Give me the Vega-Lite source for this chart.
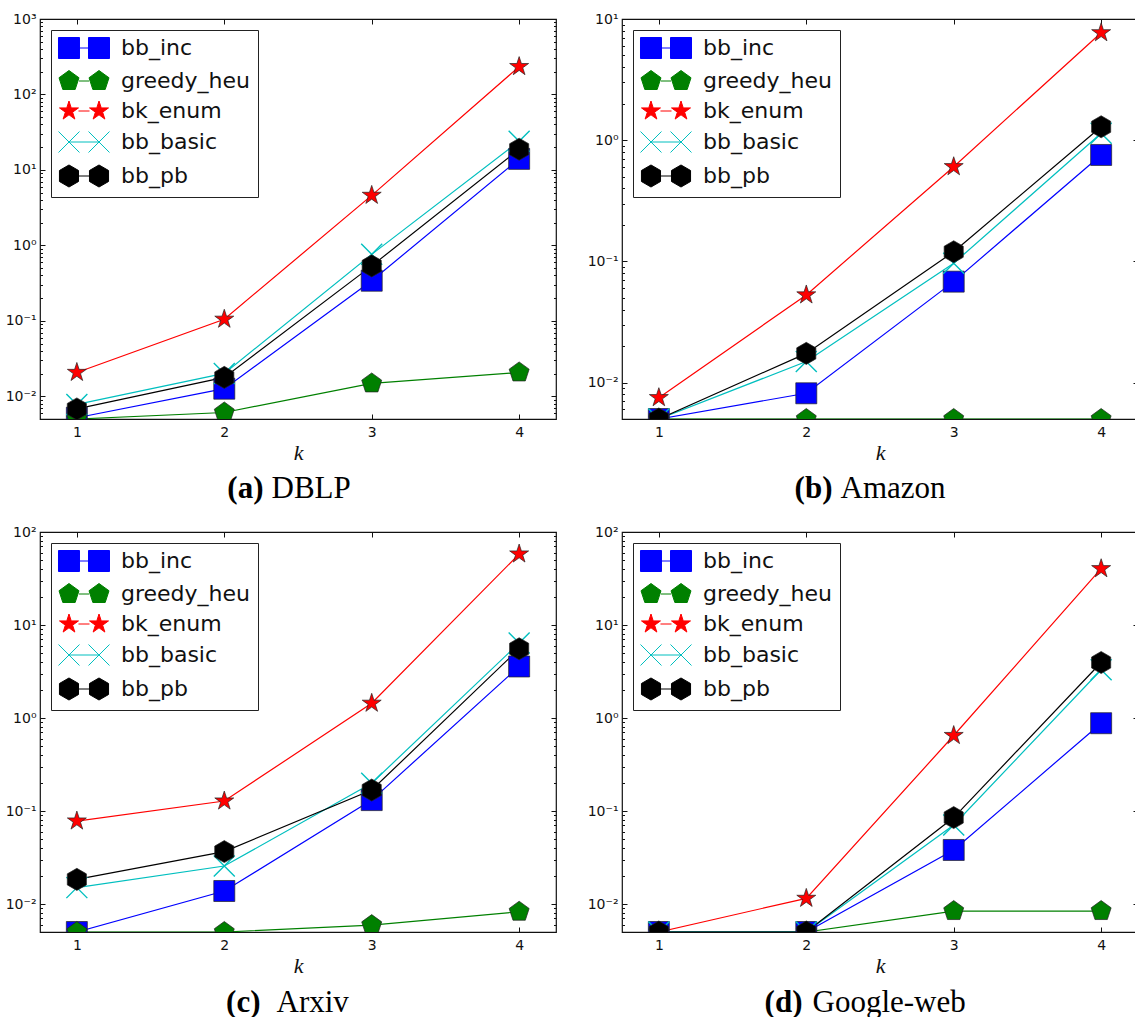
{
  "$schema": "https://vega.github.io/schema/vega-lite/v6.json",
  "padding": {"left": 4, "top": 11, "right": 0, "bottom": 0},
  "config": {
    "view": {"stroke": "#111111", "strokeWidth": 1.2},
    "axis": {"domain": false, "grid": false, "labelFont": "DejaVu Sans", "labelFontSize": 14, "labelColor": "#111111", "tickColor": "#111111", "tickWidth": 1, "labelFlush": false, "labelOverlap": false, "titleColor": "#111111"},
    "legend": {"orient": "top-left", "offset": 11, "padding": 7, "strokeColor": "#222222", "fillColor": "white", "cornerRadius": 0, "labelFont": "DejaVu Sans", "labelFontSize": 22, "labelColor": "#111111", "symbolSize": 441, "symbolOffset": 15, "labelOffset": 26, "rowPadding": 7, "symbolOpacity": 1, "symbolStrokeWidth": 1}
  },
  "data": {"values": [
    {"d": "DBLP", "s": "bb_inc", "k": 1, "t": 0.0052}, {"d": "DBLP", "s": "bb_inc", "k": 2, "t": 0.0126}, {"d": "DBLP", "s": "bb_inc", "k": 3, "t": 0.34}, {"d": "DBLP", "s": "bb_inc", "k": 4, "t": 14},
    {"d": "DBLP", "s": "greedy_heu", "k": 1, "t": 0.005}, {"d": "DBLP", "s": "greedy_heu", "k": 2, "t": 0.0061}, {"d": "DBLP", "s": "greedy_heu", "k": 3, "t": 0.0148}, {"d": "DBLP", "s": "greedy_heu", "k": 4, "t": 0.0207},
    {"d": "DBLP", "s": "bk_enum", "k": 1, "t": 0.0207}, {"d": "DBLP", "s": "bk_enum", "k": 2, "t": 0.105}, {"d": "DBLP", "s": "bk_enum", "k": 3, "t": 4.6}, {"d": "DBLP", "s": "bk_enum", "k": 4, "t": 234},
    {"d": "DBLP", "s": "bb_basic", "k": 1, "t": 0.0078}, {"d": "DBLP", "s": "bb_basic", "k": 2, "t": 0.0201}, {"d": "DBLP", "s": "bb_basic", "k": 3, "t": 0.76}, {"d": "DBLP", "s": "bb_basic", "k": 4, "t": 24},
    {"d": "DBLP", "s": "bb_pb", "k": 1, "t": 0.0068}, {"d": "DBLP", "s": "bb_pb", "k": 2, "t": 0.0178}, {"d": "DBLP", "s": "bb_pb", "k": 3, "t": 0.535}, {"d": "DBLP", "s": "bb_pb", "k": 4, "t": 18.8},
    {"d": "Amazon", "s": "bb_inc", "k": 1, "t": 0.005}, {"d": "Amazon", "s": "bb_inc", "k": 2, "t": 0.00815}, {"d": "Amazon", "s": "bb_inc", "k": 3, "t": 0.068}, {"d": "Amazon", "s": "bb_inc", "k": 4, "t": 0.755},
    {"d": "Amazon", "s": "greedy_heu", "k": 1, "t": 0.005}, {"d": "Amazon", "s": "greedy_heu", "k": 2, "t": 0.005}, {"d": "Amazon", "s": "greedy_heu", "k": 3, "t": 0.005}, {"d": "Amazon", "s": "greedy_heu", "k": 4, "t": 0.005},
    {"d": "Amazon", "s": "bk_enum", "k": 1, "t": 0.0075}, {"d": "Amazon", "s": "bk_enum", "k": 2, "t": 0.0528}, {"d": "Amazon", "s": "bk_enum", "k": 3, "t": 0.604}, {"d": "Amazon", "s": "bk_enum", "k": 4, "t": 7.7},
    {"d": "Amazon", "s": "bb_basic", "k": 1, "t": 0.005}, {"d": "Amazon", "s": "bb_basic", "k": 2, "t": 0.0149}, {"d": "Amazon", "s": "bb_basic", "k": 3, "t": 0.0964}, {"d": "Amazon", "s": "bb_basic", "k": 4, "t": 1.14},
    {"d": "Amazon", "s": "bb_pb", "k": 1, "t": 0.005}, {"d": "Amazon", "s": "bb_pb", "k": 2, "t": 0.0174}, {"d": "Amazon", "s": "bb_pb", "k": 3, "t": 0.12}, {"d": "Amazon", "s": "bb_pb", "k": 4, "t": 1.29},
    {"d": "Arxiv", "s": "bb_inc", "k": 1, "t": 0.005}, {"d": "Arxiv", "s": "bb_inc", "k": 2, "t": 0.0138}, {"d": "Arxiv", "s": "bb_inc", "k": 3, "t": 0.131}, {"d": "Arxiv", "s": "bb_inc", "k": 4, "t": 3.58},
    {"d": "Arxiv", "s": "greedy_heu", "k": 1, "t": 0.005}, {"d": "Arxiv", "s": "greedy_heu", "k": 2, "t": 0.005}, {"d": "Arxiv", "s": "greedy_heu", "k": 3, "t": 0.00593}, {"d": "Arxiv", "s": "greedy_heu", "k": 4, "t": 0.00826},
    {"d": "Arxiv", "s": "bk_enum", "k": 1, "t": 0.078}, {"d": "Arxiv", "s": "bk_enum", "k": 2, "t": 0.128}, {"d": "Arxiv", "s": "bk_enum", "k": 3, "t": 1.44}, {"d": "Arxiv", "s": "bk_enum", "k": 4, "t": 58},
    {"d": "Arxiv", "s": "bb_basic", "k": 1, "t": 0.015}, {"d": "Arxiv", "s": "bb_basic", "k": 2, "t": 0.0256}, {"d": "Arxiv", "s": "bb_basic", "k": 3, "t": 0.199}, {"d": "Arxiv", "s": "bb_basic", "k": 4, "t": 6.4},
    {"d": "Arxiv", "s": "bb_pb", "k": 1, "t": 0.0184}, {"d": "Arxiv", "s": "bb_pb", "k": 2, "t": 0.0366}, {"d": "Arxiv", "s": "bb_pb", "k": 3, "t": 0.168}, {"d": "Arxiv", "s": "bb_pb", "k": 4, "t": 5.55},
    {"d": "Google-web", "s": "bb_inc", "k": 1, "t": 0.005}, {"d": "Google-web", "s": "bb_inc", "k": 2, "t": 0.005}, {"d": "Google-web", "s": "bb_inc", "k": 3, "t": 0.0381}, {"d": "Google-web", "s": "bb_inc", "k": 4, "t": 0.879},
    {"d": "Google-web", "s": "greedy_heu", "k": 1, "t": 0.005}, {"d": "Google-web", "s": "greedy_heu", "k": 2, "t": 0.005}, {"d": "Google-web", "s": "greedy_heu", "k": 3, "t": 0.0084}, {"d": "Google-web", "s": "greedy_heu", "k": 4, "t": 0.0084},
    {"d": "Google-web", "s": "bk_enum", "k": 1, "t": 0.005}, {"d": "Google-web", "s": "bk_enum", "k": 2, "t": 0.0115}, {"d": "Google-web", "s": "bk_enum", "k": 3, "t": 0.648}, {"d": "Google-web", "s": "bk_enum", "k": 4, "t": 40.3},
    {"d": "Google-web", "s": "bb_basic", "k": 1, "t": 0.005}, {"d": "Google-web", "s": "bb_basic", "k": 2, "t": 0.005}, {"d": "Google-web", "s": "bb_basic", "k": 3, "t": 0.0707}, {"d": "Google-web", "s": "bb_basic", "k": 4, "t": 3.3},
    {"d": "Google-web", "s": "bb_pb", "k": 1, "t": 0.005}, {"d": "Google-web", "s": "bb_pb", "k": 2, "t": 0.005}, {"d": "Google-web", "s": "bb_pb", "k": 3, "t": 0.085}, {"d": "Google-web", "s": "bb_pb", "k": 4, "t": 3.95}
  ]},
  "columns": 2,
  "spacing": {"row": 113, "column": 66},
  "bounds": "flush",
  "resolve": {"scale": {"x": "independent", "y": "independent", "color": "independent", "fill": "independent", "stroke": "independent", "shape": "independent"}, "legend": {"fill": "independent", "stroke": "independent", "shape": "independent", "color": "independent"}},
  "concat": [
    {
      "width": 516, "height": 400,
      "transform": [{"filter": "datum.d === 'DBLP'"}],
      "layer": [
        {"mark": {"type": "line", "strokeWidth": 1.2, "clip": true},
         "encoding": {
           "x": {"field": "k", "type": "quantitative", "scale": {"domain": [0.75, 4.25], "nice": false, "zero": false}, "axis": {"orient": "bottom", "values": [1, 2, 3, 4], "format": "d", "ticks": false, "labelPadding": 6, "title": "k", "titleFont": "Liberation Serif", "titleFontStyle": "italic", "titleFontWeight": "normal", "titleFontSize": 22, "titlePadding": 3}},
           "y": {"field": "t", "type": "quantitative", "scale": {"type": "log", "domain": [0.005, 1000], "nice": false}, "axis": {"orient": "left", "values": [0.01, 0.1, 1, 10, 100, 1000], "ticks": false, "labelPadding": 4, "title": null, "labelExpr": "datum.value < 0.05 ? '10⁻²' : datum.value < 0.5 ? '10⁻¹' : datum.value < 5 ? '10⁰' : datum.value < 50 ? '10¹' : datum.value < 500 ? '10²' : '10³'"}},
           "color": {"field": "s", "type": "nominal", "scale": {"domain": ["bb_pb", "bb_basic", "bk_enum", "greedy_heu", "bb_inc"], "range": ["#000000", "#00bfbf", "#ff0000", "#008000", "#0000ff"]}, "legend": null}
         }},
        {"mark": {"type": "point", "filled": true, "opacity": 1, "size": 441, "clip": true},
         "encoding": {
           "x": {"field": "k", "type": "quantitative", "scale": {"domain": [0.75, 4.25], "nice": false, "zero": false}, "axis": {"orient": "bottom", "values": [1, 2, 3, 4], "labels": false, "tickSize": -5, "title": null}},
           "y": {"field": "t", "type": "quantitative", "scale": {"type": "log", "domain": [0.005, 1000], "nice": false}, "axis": {"orient": "left", "values": [0.01, 0.1, 1, 10, 100, 1000], "labels": false, "tickSize": -5, "title": null}},
           "shape": {"field": "s", "type": "nominal", "scale": {"domain": ["bb_pb", "bb_basic", "bk_enum", "greedy_heu", "bb_inc"], "range": ["M0,-1.05L0.909,-0.525L0.909,0.525L0,1.05L-0.909,0.525L-0.909,-0.525Z", "M-1,-1L1,1M-1,1L1,-1", "M0,-0.95L0.213,-0.294L0.904,-0.294L0.345,0.112L0.558,0.769L0,0.363L-0.558,0.769L-0.345,0.112L-0.904,-0.294L-0.213,-0.294Z", "M0,-1L0.951,-0.309L0.588,0.809L-0.588,0.809L-0.951,-0.309Z", "square"]}, "legend": null},
           "stroke": {"field": "s", "type": "nominal", "scale": {"domain": ["bb_pb", "bb_basic", "bk_enum", "greedy_heu", "bb_inc"], "range": ["#222222", "#00bfbf", "#222222", "#222222", "#222222"]}, "legend": null},
           "strokeWidth": {"condition": {"test": "datum.s === 'bb_basic'", "value": 1.4}, "value": 0.7},
           "fill": {"field": "s", "type": "nominal", "scale": {"domain": ["bb_inc", "greedy_heu", "bk_enum", "bb_basic", "bb_pb"], "range": ["#0000ff", "#008000", "#ff0000", "#00bfbf", "#000000"]},
             "legend": {"title": null, "encode": {"symbols": {"update": {
               "shape": {"signal": "({'bb_inc': 'M-2.43,-1H-0.43V1H-2.43ZM0.43,-1H2.43V1H0.43ZM-0.43,0H0.43', 'greedy_heu': 'M-1.43,-1L-0.479,-0.309L-0.842,0.809L-2.018,0.809L-2.381,-0.309ZM1.43,-1L2.381,-0.309L2.018,0.809L0.842,0.809L0.479,-0.309ZM-0.479,0H0.479', 'bk_enum': 'M-1.43,-0.95L-1.217,-0.294L-0.526,-0.294L-1.085,0.112L-0.872,0.769L-1.43,0.363L-1.988,0.769L-1.775,0.112L-2.334,-0.294L-1.643,-0.294ZM1.43,-0.95L1.643,-0.294L2.334,-0.294L1.775,0.112L1.988,0.769L1.43,0.363L0.872,0.769L1.085,0.112L0.526,-0.294L1.217,-0.294ZM-0.526,0H0.526', 'bb_basic': 'M-2.43,-1L-0.43,1M-2.43,1L-0.43,-1M0.43,-1L2.43,1M0.43,1L2.43,-1M-1.43,0H1.43', 'bb_pb': 'M-1.43,-1.05L-0.521,-0.525L-0.521,0.525L-1.43,1.05L-2.339,0.525L-2.339,-0.525ZM1.43,-1.05L2.339,-0.525L2.339,0.525L1.43,1.05L0.521,0.525L0.521,-0.525ZM-0.521,0H0.521'})[datum.value]"},
               "stroke": {"signal": "({'bb_inc': '#0000ff', 'greedy_heu': '#008000', 'bk_enum': '#ff0000', 'bb_basic': '#00bfbf', 'bb_pb': '#000000'})[datum.value]"},
               "strokeWidth": {"value": 1}
             }}}}}
         }},
        {"mark": {"type": "point", "opacity": 0},
         "encoding": {
           "x": {"field": "k", "type": "quantitative", "scale": {"domain": [0.75, 4.25], "nice": false, "zero": false}, "axis": {"orient": "top", "values": [1, 2, 3, 4], "labels": false, "tickSize": -5, "title": null}},
           "y": {"field": "t", "type": "quantitative", "scale": {"type": "log", "domain": [0.005, 1000], "nice": false}, "axis": {"orient": "right", "values": [0.01, 0.1, 1, 10, 100, 1000], "labels": false, "tickSize": -5, "title": null}}
         }},
        {"mark": {"type": "point", "opacity": 0},
         "encoding": {
           "x": {"field": "k", "type": "quantitative", "scale": {"domain": [0.75, 4.25], "nice": false, "zero": false}, "axis": {"orient": "bottom", "labels": false, "ticks": false, "title": "(a)", "titleFont": "Liberation Serif", "titleFontSize": 31, "titleFontWeight": "bold", "titleColor": "black", "titleAlign": "right", "titleBaseline": "alphabetic", "titleX": 223, "titleY": 78}},
           "y": {"field": "t", "type": "quantitative", "scale": {"type": "log", "domain": [0.005, 1000], "nice": false}, "axis": {"orient": "left", "values": [0.006, 0.007, 0.008, 0.009, 0.02, 0.03, 0.04, 0.05, 0.06, 0.07, 0.08, 0.09, 0.2, 0.3, 0.4, 0.5, 0.6, 0.7, 0.8, 0.9, 2, 3, 4, 5, 6, 7, 8, 9, 20, 30, 40, 50, 60, 70, 80, 90, 200, 300, 400, 500, 600, 700, 800, 900], "labels": false, "tickSize": -2.5, "title": null}}
         }},
        {"mark": {"type": "point", "opacity": 0},
         "encoding": {
           "x": {"field": "k", "type": "quantitative", "scale": {"domain": [0.75, 4.25], "nice": false, "zero": false}, "axis": {"orient": "bottom", "labels": false, "ticks": false, "title": "DBLP", "titleFont": "Liberation Serif", "titleFontSize": 31, "titleFontWeight": "normal", "titleColor": "black", "titleAlign": "left", "titleBaseline": "alphabetic", "titleX": 231, "titleY": 78}},
           "y": {"field": "t", "type": "quantitative", "scale": {"type": "log", "domain": [0.005, 1000], "nice": false}, "axis": {"orient": "right", "values": [0.006, 0.007, 0.008, 0.009, 0.02, 0.03, 0.04, 0.05, 0.06, 0.07, 0.08, 0.09, 0.2, 0.3, 0.4, 0.5, 0.6, 0.7, 0.8, 0.9, 2, 3, 4, 5, 6, 7, 8, 9, 20, 30, 40, 50, 60, 70, 80, 90, 200, 300, 400, 500, 600, 700, 800, 900], "labels": false, "tickSize": -2.5, "title": null}}
         }}
      ],
      "resolve": {"axis": {"x": "independent", "y": "independent"}}
    },
    {
      "width": 516, "height": 400,
      "transform": [{"filter": "datum.d === 'Amazon'"}],
      "layer": [
        {"mark": {"type": "line", "strokeWidth": 1.2, "clip": true},
         "encoding": {
           "x": {"field": "k", "type": "quantitative", "scale": {"domain": [0.75, 4.25], "nice": false, "zero": false}, "axis": {"orient": "bottom", "values": [1, 2, 3, 4], "format": "d", "ticks": false, "labelPadding": 6, "title": "k", "titleFont": "Liberation Serif", "titleFontStyle": "italic", "titleFontWeight": "normal", "titleFontSize": 22, "titlePadding": 3}},
           "y": {"field": "t", "type": "quantitative", "scale": {"type": "log", "domain": [0.005, 10], "nice": false}, "axis": {"orient": "left", "values": [0.01, 0.1, 1, 10], "ticks": false, "labelPadding": 4, "title": null, "labelExpr": "datum.value < 0.05 ? '10⁻²' : datum.value < 0.5 ? '10⁻¹' : datum.value < 5 ? '10⁰' : datum.value < 50 ? '10¹' : datum.value < 500 ? '10²' : '10³'"}},
           "color": {"field": "s", "type": "nominal", "scale": {"domain": ["bb_pb", "bb_basic", "bk_enum", "greedy_heu", "bb_inc"], "range": ["#000000", "#00bfbf", "#ff0000", "#008000", "#0000ff"]}, "legend": null}
         }},
        {"mark": {"type": "point", "filled": true, "opacity": 1, "size": 441, "clip": true},
         "encoding": {
           "x": {"field": "k", "type": "quantitative", "scale": {"domain": [0.75, 4.25], "nice": false, "zero": false}, "axis": {"orient": "bottom", "values": [1, 2, 3, 4], "labels": false, "tickSize": -5, "title": null}},
           "y": {"field": "t", "type": "quantitative", "scale": {"type": "log", "domain": [0.005, 10], "nice": false}, "axis": {"orient": "left", "values": [0.01, 0.1, 1, 10], "labels": false, "tickSize": -5, "title": null}},
           "shape": {"field": "s", "type": "nominal", "scale": {"domain": ["bb_pb", "bb_basic", "bk_enum", "greedy_heu", "bb_inc"], "range": ["M0,-1.05L0.909,-0.525L0.909,0.525L0,1.05L-0.909,0.525L-0.909,-0.525Z", "M-1,-1L1,1M-1,1L1,-1", "M0,-0.95L0.213,-0.294L0.904,-0.294L0.345,0.112L0.558,0.769L0,0.363L-0.558,0.769L-0.345,0.112L-0.904,-0.294L-0.213,-0.294Z", "M0,-1L0.951,-0.309L0.588,0.809L-0.588,0.809L-0.951,-0.309Z", "square"]}, "legend": null},
           "stroke": {"field": "s", "type": "nominal", "scale": {"domain": ["bb_pb", "bb_basic", "bk_enum", "greedy_heu", "bb_inc"], "range": ["#222222", "#00bfbf", "#222222", "#222222", "#222222"]}, "legend": null},
           "strokeWidth": {"condition": {"test": "datum.s === 'bb_basic'", "value": 1.4}, "value": 0.7},
           "fill": {"field": "s", "type": "nominal", "scale": {"domain": ["bb_inc", "greedy_heu", "bk_enum", "bb_basic", "bb_pb"], "range": ["#0000ff", "#008000", "#ff0000", "#00bfbf", "#000000"]},
             "legend": {"title": null, "encode": {"symbols": {"update": {
               "shape": {"signal": "({'bb_inc': 'M-2.43,-1H-0.43V1H-2.43ZM0.43,-1H2.43V1H0.43ZM-0.43,0H0.43', 'greedy_heu': 'M-1.43,-1L-0.479,-0.309L-0.842,0.809L-2.018,0.809L-2.381,-0.309ZM1.43,-1L2.381,-0.309L2.018,0.809L0.842,0.809L0.479,-0.309ZM-0.479,0H0.479', 'bk_enum': 'M-1.43,-0.95L-1.217,-0.294L-0.526,-0.294L-1.085,0.112L-0.872,0.769L-1.43,0.363L-1.988,0.769L-1.775,0.112L-2.334,-0.294L-1.643,-0.294ZM1.43,-0.95L1.643,-0.294L2.334,-0.294L1.775,0.112L1.988,0.769L1.43,0.363L0.872,0.769L1.085,0.112L0.526,-0.294L1.217,-0.294ZM-0.526,0H0.526', 'bb_basic': 'M-2.43,-1L-0.43,1M-2.43,1L-0.43,-1M0.43,-1L2.43,1M0.43,1L2.43,-1M-1.43,0H1.43', 'bb_pb': 'M-1.43,-1.05L-0.521,-0.525L-0.521,0.525L-1.43,1.05L-2.339,0.525L-2.339,-0.525ZM1.43,-1.05L2.339,-0.525L2.339,0.525L1.43,1.05L0.521,0.525L0.521,-0.525ZM-0.521,0H0.521'})[datum.value]"},
               "stroke": {"signal": "({'bb_inc': '#0000ff', 'greedy_heu': '#008000', 'bk_enum': '#ff0000', 'bb_basic': '#00bfbf', 'bb_pb': '#000000'})[datum.value]"},
               "strokeWidth": {"value": 1}
             }}}}}
         }},
        {"mark": {"type": "point", "opacity": 0},
         "encoding": {
           "x": {"field": "k", "type": "quantitative", "scale": {"domain": [0.75, 4.25], "nice": false, "zero": false}, "axis": {"orient": "top", "values": [1, 2, 3, 4], "labels": false, "tickSize": -5, "title": null}},
           "y": {"field": "t", "type": "quantitative", "scale": {"type": "log", "domain": [0.005, 10], "nice": false}, "axis": {"orient": "right", "values": [0.01, 0.1, 1, 10], "labels": false, "tickSize": -5, "title": null}}
         }},
        {"mark": {"type": "point", "opacity": 0},
         "encoding": {
           "x": {"field": "k", "type": "quantitative", "scale": {"domain": [0.75, 4.25], "nice": false, "zero": false}, "axis": {"orient": "bottom", "labels": false, "ticks": false, "title": "(b)", "titleFont": "Liberation Serif", "titleFontSize": 31, "titleFontWeight": "bold", "titleColor": "black", "titleAlign": "right", "titleBaseline": "alphabetic", "titleX": 210, "titleY": 78}},
           "y": {"field": "t", "type": "quantitative", "scale": {"type": "log", "domain": [0.005, 10], "nice": false}, "axis": {"orient": "left", "values": [0.006, 0.007, 0.008, 0.009, 0.02, 0.03, 0.04, 0.05, 0.06, 0.07, 0.08, 0.09, 0.2, 0.3, 0.4, 0.5, 0.6, 0.7, 0.8, 0.9, 2, 3, 4, 5, 6, 7, 8, 9], "labels": false, "tickSize": -2.5, "title": null}}
         }},
        {"mark": {"type": "point", "opacity": 0},
         "encoding": {
           "x": {"field": "k", "type": "quantitative", "scale": {"domain": [0.75, 4.25], "nice": false, "zero": false}, "axis": {"orient": "bottom", "labels": false, "ticks": false, "title": "Amazon", "titleFont": "Liberation Serif", "titleFontSize": 31, "titleFontWeight": "normal", "titleColor": "black", "titleAlign": "left", "titleBaseline": "alphabetic", "titleX": 218, "titleY": 78}},
           "y": {"field": "t", "type": "quantitative", "scale": {"type": "log", "domain": [0.005, 10], "nice": false}, "axis": {"orient": "right", "values": [0.006, 0.007, 0.008, 0.009, 0.02, 0.03, 0.04, 0.05, 0.06, 0.07, 0.08, 0.09, 0.2, 0.3, 0.4, 0.5, 0.6, 0.7, 0.8, 0.9, 2, 3, 4, 5, 6, 7, 8, 9], "labels": false, "tickSize": -2.5, "title": null}}
         }}
      ],
      "resolve": {"axis": {"x": "independent", "y": "independent"}}
    },
    {
      "width": 516, "height": 400,
      "transform": [{"filter": "datum.d === 'Arxiv'"}],
      "layer": [
        {"mark": {"type": "line", "strokeWidth": 1.2, "clip": true},
         "encoding": {
           "x": {"field": "k", "type": "quantitative", "scale": {"domain": [0.75, 4.25], "nice": false, "zero": false}, "axis": {"orient": "bottom", "values": [1, 2, 3, 4], "format": "d", "ticks": false, "labelPadding": 6, "title": "k", "titleFont": "Liberation Serif", "titleFontStyle": "italic", "titleFontWeight": "normal", "titleFontSize": 22, "titlePadding": 3}},
           "y": {"field": "t", "type": "quantitative", "scale": {"type": "log", "domain": [0.005, 100], "nice": false}, "axis": {"orient": "left", "values": [0.01, 0.1, 1, 10, 100], "ticks": false, "labelPadding": 4, "title": null, "labelExpr": "datum.value < 0.05 ? '10⁻²' : datum.value < 0.5 ? '10⁻¹' : datum.value < 5 ? '10⁰' : datum.value < 50 ? '10¹' : datum.value < 500 ? '10²' : '10³'"}},
           "color": {"field": "s", "type": "nominal", "scale": {"domain": ["bb_pb", "bb_basic", "bk_enum", "greedy_heu", "bb_inc"], "range": ["#000000", "#00bfbf", "#ff0000", "#008000", "#0000ff"]}, "legend": null}
         }},
        {"mark": {"type": "point", "filled": true, "opacity": 1, "size": 441, "clip": true},
         "encoding": {
           "x": {"field": "k", "type": "quantitative", "scale": {"domain": [0.75, 4.25], "nice": false, "zero": false}, "axis": {"orient": "bottom", "values": [1, 2, 3, 4], "labels": false, "tickSize": -5, "title": null}},
           "y": {"field": "t", "type": "quantitative", "scale": {"type": "log", "domain": [0.005, 100], "nice": false}, "axis": {"orient": "left", "values": [0.01, 0.1, 1, 10, 100], "labels": false, "tickSize": -5, "title": null}},
           "shape": {"field": "s", "type": "nominal", "scale": {"domain": ["bb_pb", "bb_basic", "bk_enum", "greedy_heu", "bb_inc"], "range": ["M0,-1.05L0.909,-0.525L0.909,0.525L0,1.05L-0.909,0.525L-0.909,-0.525Z", "M-1,-1L1,1M-1,1L1,-1", "M0,-0.95L0.213,-0.294L0.904,-0.294L0.345,0.112L0.558,0.769L0,0.363L-0.558,0.769L-0.345,0.112L-0.904,-0.294L-0.213,-0.294Z", "M0,-1L0.951,-0.309L0.588,0.809L-0.588,0.809L-0.951,-0.309Z", "square"]}, "legend": null},
           "stroke": {"field": "s", "type": "nominal", "scale": {"domain": ["bb_pb", "bb_basic", "bk_enum", "greedy_heu", "bb_inc"], "range": ["#222222", "#00bfbf", "#222222", "#222222", "#222222"]}, "legend": null},
           "strokeWidth": {"condition": {"test": "datum.s === 'bb_basic'", "value": 1.4}, "value": 0.7},
           "fill": {"field": "s", "type": "nominal", "scale": {"domain": ["bb_inc", "greedy_heu", "bk_enum", "bb_basic", "bb_pb"], "range": ["#0000ff", "#008000", "#ff0000", "#00bfbf", "#000000"]},
             "legend": {"title": null, "encode": {"symbols": {"update": {
               "shape": {"signal": "({'bb_inc': 'M-2.43,-1H-0.43V1H-2.43ZM0.43,-1H2.43V1H0.43ZM-0.43,0H0.43', 'greedy_heu': 'M-1.43,-1L-0.479,-0.309L-0.842,0.809L-2.018,0.809L-2.381,-0.309ZM1.43,-1L2.381,-0.309L2.018,0.809L0.842,0.809L0.479,-0.309ZM-0.479,0H0.479', 'bk_enum': 'M-1.43,-0.95L-1.217,-0.294L-0.526,-0.294L-1.085,0.112L-0.872,0.769L-1.43,0.363L-1.988,0.769L-1.775,0.112L-2.334,-0.294L-1.643,-0.294ZM1.43,-0.95L1.643,-0.294L2.334,-0.294L1.775,0.112L1.988,0.769L1.43,0.363L0.872,0.769L1.085,0.112L0.526,-0.294L1.217,-0.294ZM-0.526,0H0.526', 'bb_basic': 'M-2.43,-1L-0.43,1M-2.43,1L-0.43,-1M0.43,-1L2.43,1M0.43,1L2.43,-1M-1.43,0H1.43', 'bb_pb': 'M-1.43,-1.05L-0.521,-0.525L-0.521,0.525L-1.43,1.05L-2.339,0.525L-2.339,-0.525ZM1.43,-1.05L2.339,-0.525L2.339,0.525L1.43,1.05L0.521,0.525L0.521,-0.525ZM-0.521,0H0.521'})[datum.value]"},
               "stroke": {"signal": "({'bb_inc': '#0000ff', 'greedy_heu': '#008000', 'bk_enum': '#ff0000', 'bb_basic': '#00bfbf', 'bb_pb': '#000000'})[datum.value]"},
               "strokeWidth": {"value": 1}
             }}}}}
         }},
        {"mark": {"type": "point", "opacity": 0},
         "encoding": {
           "x": {"field": "k", "type": "quantitative", "scale": {"domain": [0.75, 4.25], "nice": false, "zero": false}, "axis": {"orient": "top", "values": [1, 2, 3, 4], "labels": false, "tickSize": -5, "title": null}},
           "y": {"field": "t", "type": "quantitative", "scale": {"type": "log", "domain": [0.005, 100], "nice": false}, "axis": {"orient": "right", "values": [0.01, 0.1, 1, 10, 100], "labels": false, "tickSize": -5, "title": null}}
         }},
        {"mark": {"type": "point", "opacity": 0},
         "encoding": {
           "x": {"field": "k", "type": "quantitative", "scale": {"domain": [0.75, 4.25], "nice": false, "zero": false}, "axis": {"orient": "bottom", "labels": false, "ticks": false, "title": "(c)", "titleFont": "Liberation Serif", "titleFontSize": 31, "titleFontWeight": "bold", "titleColor": "black", "titleAlign": "right", "titleBaseline": "alphabetic", "titleX": 220, "titleY": 79}},
           "y": {"field": "t", "type": "quantitative", "scale": {"type": "log", "domain": [0.005, 100], "nice": false}, "axis": {"orient": "left", "values": [0.006, 0.007, 0.008, 0.009, 0.02, 0.03, 0.04, 0.05, 0.06, 0.07, 0.08, 0.09, 0.2, 0.3, 0.4, 0.5, 0.6, 0.7, 0.8, 0.9, 2, 3, 4, 5, 6, 7, 8, 9, 20, 30, 40, 50, 60, 70, 80, 90], "labels": false, "tickSize": -2.5, "title": null}}
         }},
        {"mark": {"type": "point", "opacity": 0},
         "encoding": {
           "x": {"field": "k", "type": "quantitative", "scale": {"domain": [0.75, 4.25], "nice": false, "zero": false}, "axis": {"orient": "bottom", "labels": false, "ticks": false, "title": "Arxiv", "titleFont": "Liberation Serif", "titleFontSize": 31, "titleFontWeight": "normal", "titleColor": "black", "titleAlign": "left", "titleBaseline": "alphabetic", "titleX": 236, "titleY": 79}},
           "y": {"field": "t", "type": "quantitative", "scale": {"type": "log", "domain": [0.005, 100], "nice": false}, "axis": {"orient": "right", "values": [0.006, 0.007, 0.008, 0.009, 0.02, 0.03, 0.04, 0.05, 0.06, 0.07, 0.08, 0.09, 0.2, 0.3, 0.4, 0.5, 0.6, 0.7, 0.8, 0.9, 2, 3, 4, 5, 6, 7, 8, 9, 20, 30, 40, 50, 60, 70, 80, 90], "labels": false, "tickSize": -2.5, "title": null}}
         }}
      ],
      "resolve": {"axis": {"x": "independent", "y": "independent"}}
    },
    {
      "width": 516, "height": 400,
      "transform": [{"filter": "datum.d === 'Google-web'"}],
      "layer": [
        {"mark": {"type": "line", "strokeWidth": 1.2, "clip": true},
         "encoding": {
           "x": {"field": "k", "type": "quantitative", "scale": {"domain": [0.75, 4.25], "nice": false, "zero": false}, "axis": {"orient": "bottom", "values": [1, 2, 3, 4], "format": "d", "ticks": false, "labelPadding": 6, "title": "k", "titleFont": "Liberation Serif", "titleFontStyle": "italic", "titleFontWeight": "normal", "titleFontSize": 22, "titlePadding": 3}},
           "y": {"field": "t", "type": "quantitative", "scale": {"type": "log", "domain": [0.005, 100], "nice": false}, "axis": {"orient": "left", "values": [0.01, 0.1, 1, 10, 100], "ticks": false, "labelPadding": 4, "title": null, "labelExpr": "datum.value < 0.05 ? '10⁻²' : datum.value < 0.5 ? '10⁻¹' : datum.value < 5 ? '10⁰' : datum.value < 50 ? '10¹' : datum.value < 500 ? '10²' : '10³'"}},
           "color": {"field": "s", "type": "nominal", "scale": {"domain": ["bb_pb", "bb_basic", "bk_enum", "greedy_heu", "bb_inc"], "range": ["#000000", "#00bfbf", "#ff0000", "#008000", "#0000ff"]}, "legend": null}
         }},
        {"mark": {"type": "point", "filled": true, "opacity": 1, "size": 441, "clip": true},
         "encoding": {
           "x": {"field": "k", "type": "quantitative", "scale": {"domain": [0.75, 4.25], "nice": false, "zero": false}, "axis": {"orient": "bottom", "values": [1, 2, 3, 4], "labels": false, "tickSize": -5, "title": null}},
           "y": {"field": "t", "type": "quantitative", "scale": {"type": "log", "domain": [0.005, 100], "nice": false}, "axis": {"orient": "left", "values": [0.01, 0.1, 1, 10, 100], "labels": false, "tickSize": -5, "title": null}},
           "shape": {"field": "s", "type": "nominal", "scale": {"domain": ["bb_pb", "bb_basic", "bk_enum", "greedy_heu", "bb_inc"], "range": ["M0,-1.05L0.909,-0.525L0.909,0.525L0,1.05L-0.909,0.525L-0.909,-0.525Z", "M-1,-1L1,1M-1,1L1,-1", "M0,-0.95L0.213,-0.294L0.904,-0.294L0.345,0.112L0.558,0.769L0,0.363L-0.558,0.769L-0.345,0.112L-0.904,-0.294L-0.213,-0.294Z", "M0,-1L0.951,-0.309L0.588,0.809L-0.588,0.809L-0.951,-0.309Z", "square"]}, "legend": null},
           "stroke": {"field": "s", "type": "nominal", "scale": {"domain": ["bb_pb", "bb_basic", "bk_enum", "greedy_heu", "bb_inc"], "range": ["#222222", "#00bfbf", "#222222", "#222222", "#222222"]}, "legend": null},
           "strokeWidth": {"condition": {"test": "datum.s === 'bb_basic'", "value": 1.4}, "value": 0.7},
           "fill": {"field": "s", "type": "nominal", "scale": {"domain": ["bb_inc", "greedy_heu", "bk_enum", "bb_basic", "bb_pb"], "range": ["#0000ff", "#008000", "#ff0000", "#00bfbf", "#000000"]},
             "legend": {"title": null, "encode": {"symbols": {"update": {
               "shape": {"signal": "({'bb_inc': 'M-2.43,-1H-0.43V1H-2.43ZM0.43,-1H2.43V1H0.43ZM-0.43,0H0.43', 'greedy_heu': 'M-1.43,-1L-0.479,-0.309L-0.842,0.809L-2.018,0.809L-2.381,-0.309ZM1.43,-1L2.381,-0.309L2.018,0.809L0.842,0.809L0.479,-0.309ZM-0.479,0H0.479', 'bk_enum': 'M-1.43,-0.95L-1.217,-0.294L-0.526,-0.294L-1.085,0.112L-0.872,0.769L-1.43,0.363L-1.988,0.769L-1.775,0.112L-2.334,-0.294L-1.643,-0.294ZM1.43,-0.95L1.643,-0.294L2.334,-0.294L1.775,0.112L1.988,0.769L1.43,0.363L0.872,0.769L1.085,0.112L0.526,-0.294L1.217,-0.294ZM-0.526,0H0.526', 'bb_basic': 'M-2.43,-1L-0.43,1M-2.43,1L-0.43,-1M0.43,-1L2.43,1M0.43,1L2.43,-1M-1.43,0H1.43', 'bb_pb': 'M-1.43,-1.05L-0.521,-0.525L-0.521,0.525L-1.43,1.05L-2.339,0.525L-2.339,-0.525ZM1.43,-1.05L2.339,-0.525L2.339,0.525L1.43,1.05L0.521,0.525L0.521,-0.525ZM-0.521,0H0.521'})[datum.value]"},
               "stroke": {"signal": "({'bb_inc': '#0000ff', 'greedy_heu': '#008000', 'bk_enum': '#ff0000', 'bb_basic': '#00bfbf', 'bb_pb': '#000000'})[datum.value]"},
               "strokeWidth": {"value": 1}
             }}}}}
         }},
        {"mark": {"type": "point", "opacity": 0},
         "encoding": {
           "x": {"field": "k", "type": "quantitative", "scale": {"domain": [0.75, 4.25], "nice": false, "zero": false}, "axis": {"orient": "top", "values": [1, 2, 3, 4], "labels": false, "tickSize": -5, "title": null}},
           "y": {"field": "t", "type": "quantitative", "scale": {"type": "log", "domain": [0.005, 100], "nice": false}, "axis": {"orient": "right", "values": [0.01, 0.1, 1, 10, 100], "labels": false, "tickSize": -5, "title": null}}
         }},
        {"mark": {"type": "point", "opacity": 0},
         "encoding": {
           "x": {"field": "k", "type": "quantitative", "scale": {"domain": [0.75, 4.25], "nice": false, "zero": false}, "axis": {"orient": "bottom", "labels": false, "ticks": false, "title": "(d)", "titleFont": "Liberation Serif", "titleFontSize": 31, "titleFontWeight": "bold", "titleColor": "black", "titleAlign": "right", "titleBaseline": "alphabetic", "titleX": 180, "titleY": 79}},
           "y": {"field": "t", "type": "quantitative", "scale": {"type": "log", "domain": [0.005, 100], "nice": false}, "axis": {"orient": "left", "values": [0.006, 0.007, 0.008, 0.009, 0.02, 0.03, 0.04, 0.05, 0.06, 0.07, 0.08, 0.09, 0.2, 0.3, 0.4, 0.5, 0.6, 0.7, 0.8, 0.9, 2, 3, 4, 5, 6, 7, 8, 9, 20, 30, 40, 50, 60, 70, 80, 90], "labels": false, "tickSize": -2.5, "title": null}}
         }},
        {"mark": {"type": "point", "opacity": 0},
         "encoding": {
           "x": {"field": "k", "type": "quantitative", "scale": {"domain": [0.75, 4.25], "nice": false, "zero": false}, "axis": {"orient": "bottom", "labels": false, "ticks": false, "title": "Google-web", "titleFont": "Liberation Serif", "titleFontSize": 31, "titleFontWeight": "normal", "titleColor": "black", "titleAlign": "left", "titleBaseline": "alphabetic", "titleX": 190, "titleY": 79}},
           "y": {"field": "t", "type": "quantitative", "scale": {"type": "log", "domain": [0.005, 100], "nice": false}, "axis": {"orient": "right", "values": [0.006, 0.007, 0.008, 0.009, 0.02, 0.03, 0.04, 0.05, 0.06, 0.07, 0.08, 0.09, 0.2, 0.3, 0.4, 0.5, 0.6, 0.7, 0.8, 0.9, 2, 3, 4, 5, 6, 7, 8, 9, 20, 30, 40, 50, 60, 70, 80, 90], "labels": false, "tickSize": -2.5, "title": null}}
         }}
      ],
      "resolve": {"axis": {"x": "independent", "y": "independent"}}
    }
  ]
}
